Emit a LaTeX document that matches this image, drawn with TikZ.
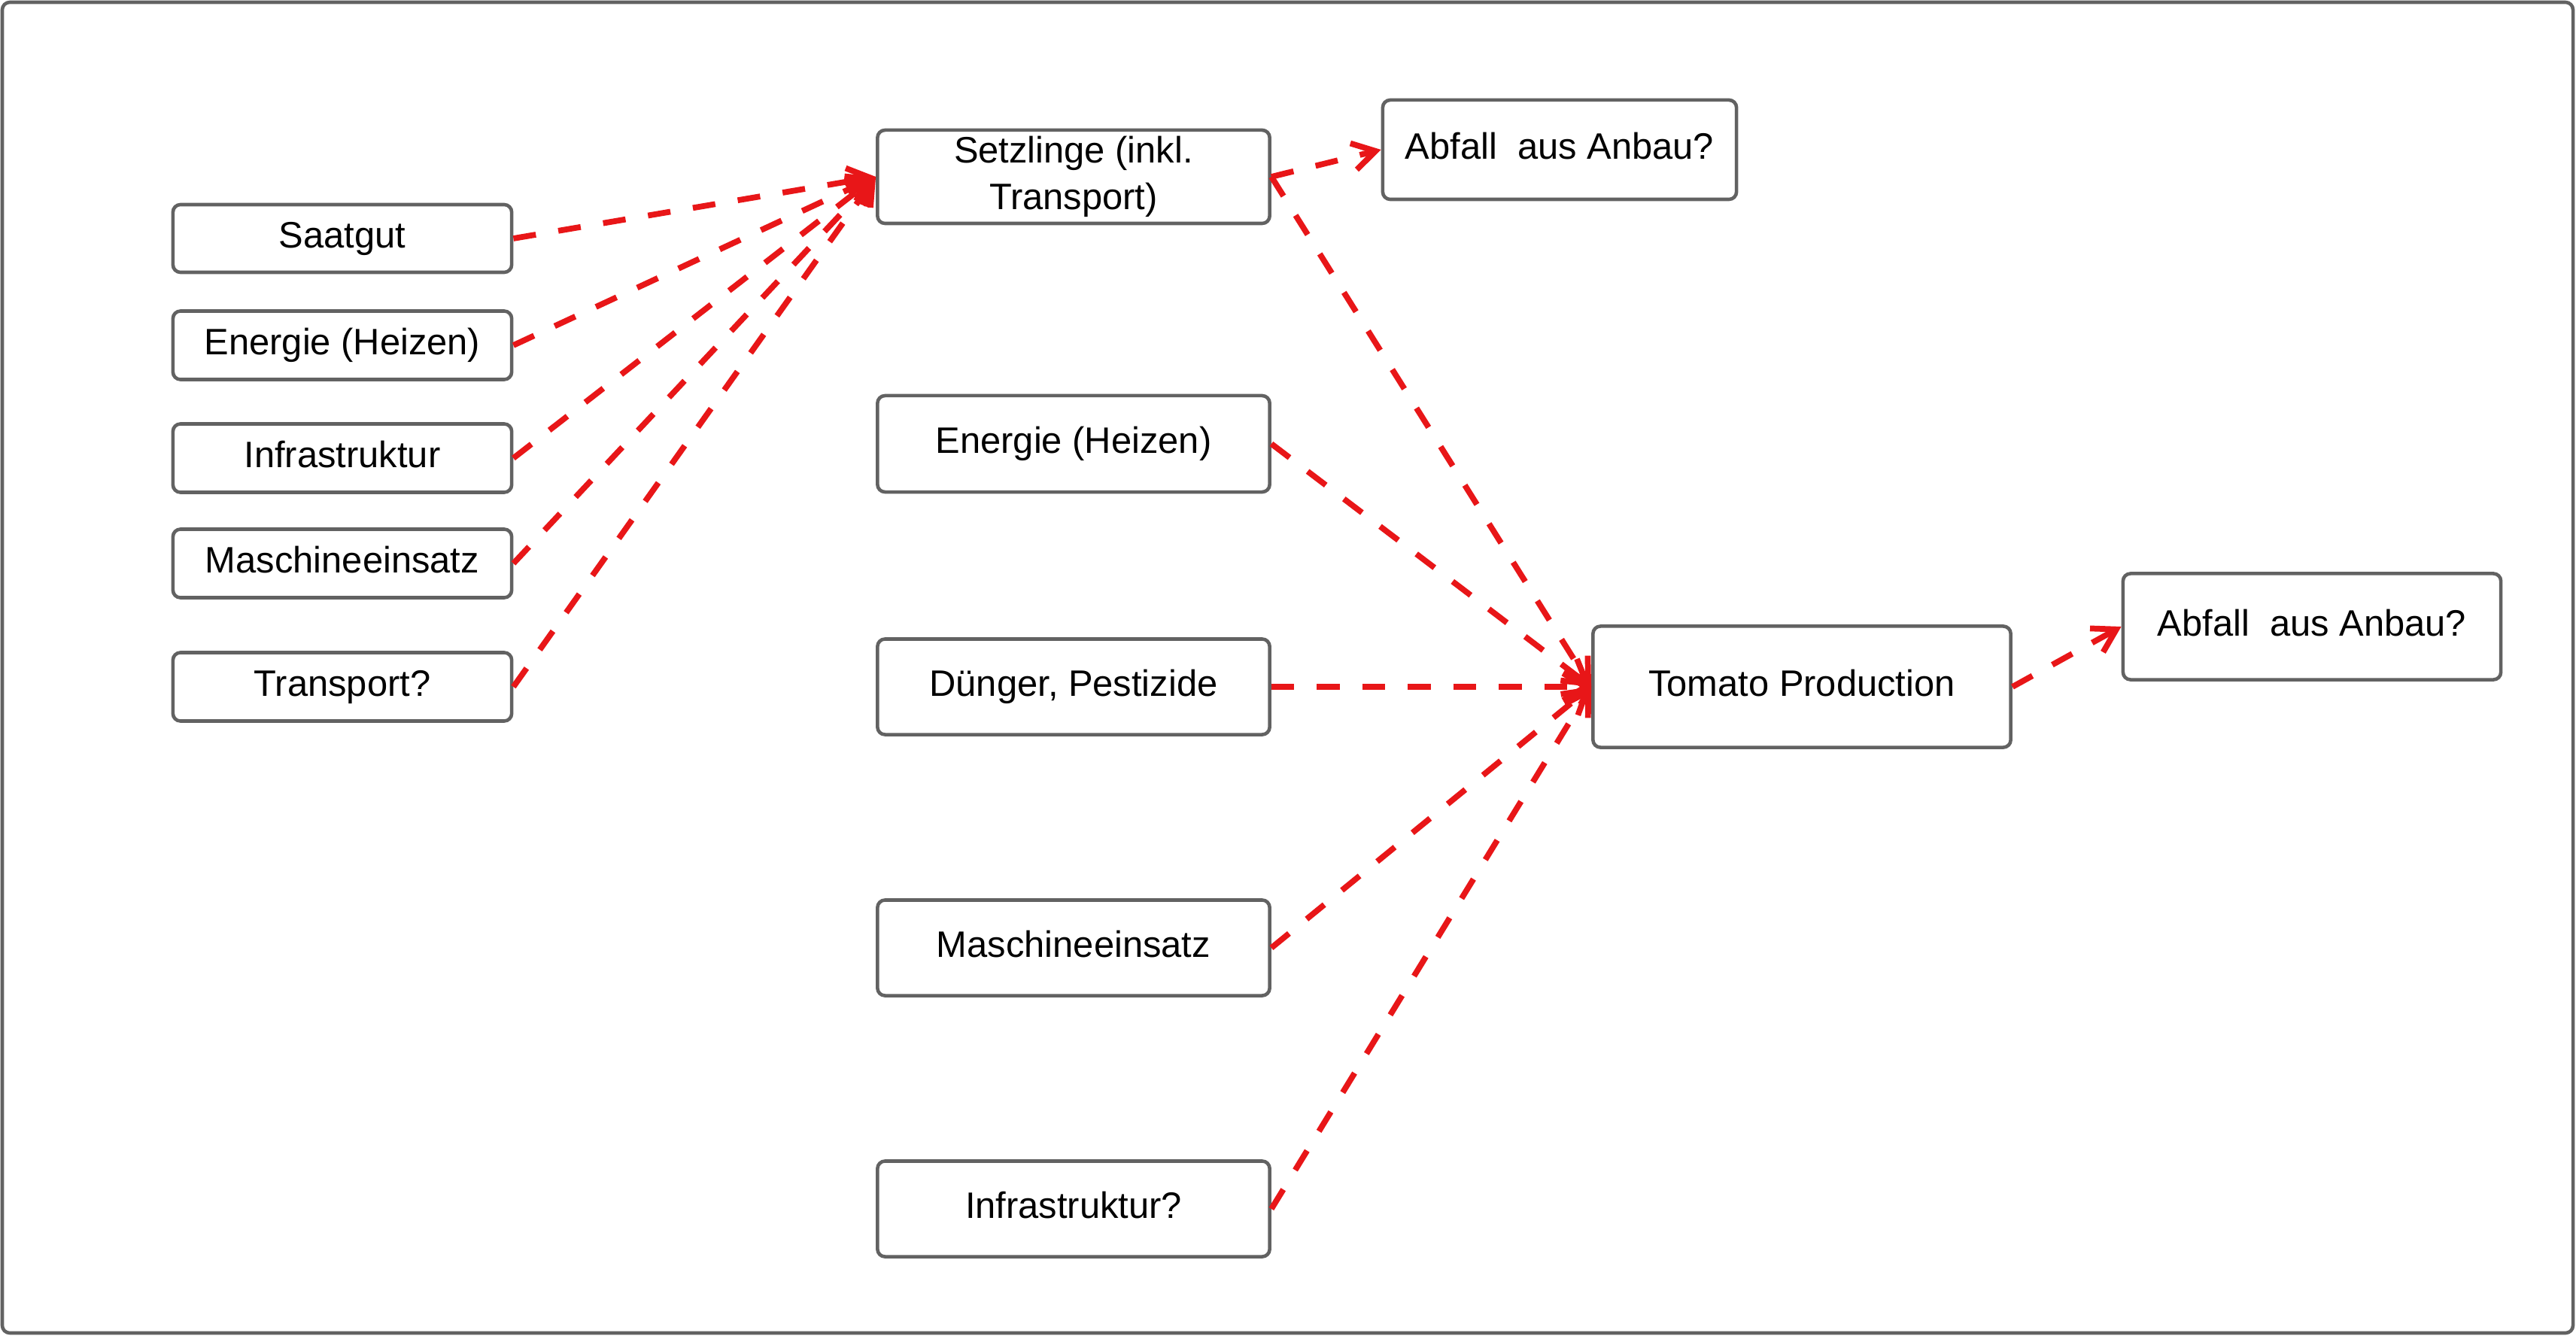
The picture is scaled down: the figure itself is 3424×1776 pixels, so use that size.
\documentclass[tikz,border=0pt]{standalone}
\usepackage{fontspec}
\setmainfont{Liberation Sans}
\usetikzlibrary{arrows.meta}
\definecolor{boxgrey}{RGB}{98,98,98}
\definecolor{arrred}{RGB}{232,22,24}
\begin{document}
\begin{tikzpicture}[x=0.01cm,y=-0.01cm,
  box/.style={draw=boxgrey,line width=1.3pt,rounded corners=1mm,inner sep=0pt,
    align=center,font=\fontsize{13.9pt}{17.6pt}\selectfont,fill=white,
    text height=0.36cm,text depth=0.12cm},
  twoline/.style={text height=,text depth=},
  flow/.style={draw=arrred,line width=2.2pt,dash pattern=on 8.6pt off 8.6pt,
    -{Straight Barb[length=3mm,width=3.6mm]}}]
\useasboundingbox (0,0) rectangle (3424,1776);
\draw[boxgrey,line width=1.3pt,rounded corners=1mm] (3,3) rectangle (3420,1772);
% left column
\node[box,minimum width=4.50cm,minimum height=0.90cm] (saat) at (455,317) {Saatgut};
\node[box,minimum width=4.50cm,minimum height=0.91cm] (ene1) at (455,459) {Energie (Heizen)};
\node[box,minimum width=4.50cm,minimum height=0.91cm] (inf1) at (455,609) {Infrastruktur};
\node[box,minimum width=4.50cm,minimum height=0.91cm] (mas1) at (455,749) {Maschineeinsatz};
\node[box,minimum width=4.50cm,minimum height=0.91cm] (tra1) at (455,913) {Transport?};
% middle column
\node[box,twoline,minimum width=5.21cm,minimum height=1.24cm] (setz) at (1427,235) {Setzlinge (inkl.\\Transport)};
\node[box,minimum width=5.21cm,minimum height=1.28cm] (ene2) at (1427,590) {Energie (Heizen)};
\node[box,minimum width=5.21cm,minimum height=1.27cm] (due) at (1427,913) {Dünger, Pestizide};
\node[box,minimum width=5.21cm,minimum height=1.27cm] (mas2) at (1427,1260) {Maschineeinsatz};
\node[box,minimum width=5.21cm,minimum height=1.27cm] (inf2) at (1427,1607) {Infrastruktur?};
% right
\node[box,minimum width=4.70cm,minimum height=1.32cm] (abf1) at (2073,199) {Abfall\ \ aus Anbau?};
\node[box,minimum width=5.55cm,minimum height=1.61cm] (tom) at (2395,913) {Tomato Production};
\node[box,minimum width=5.02cm,minimum height=1.41cm] (abf2) at (3073,833) {Abfall\ \ aus Anbau?};
% connectors
\foreach \n in {saat,ene1,inf1,mas1,tra1}
  \draw[flow] (\n.east) -- (setz.west);
\draw[flow] (setz.east) -- (abf1.west);
\foreach \n in {setz,ene2,due,mas2,inf2}
  \draw[flow] (\n.east) -- (tom.west);
\draw[flow] (tom.east) -- (abf2.west);
\end{tikzpicture}
\end{document}
